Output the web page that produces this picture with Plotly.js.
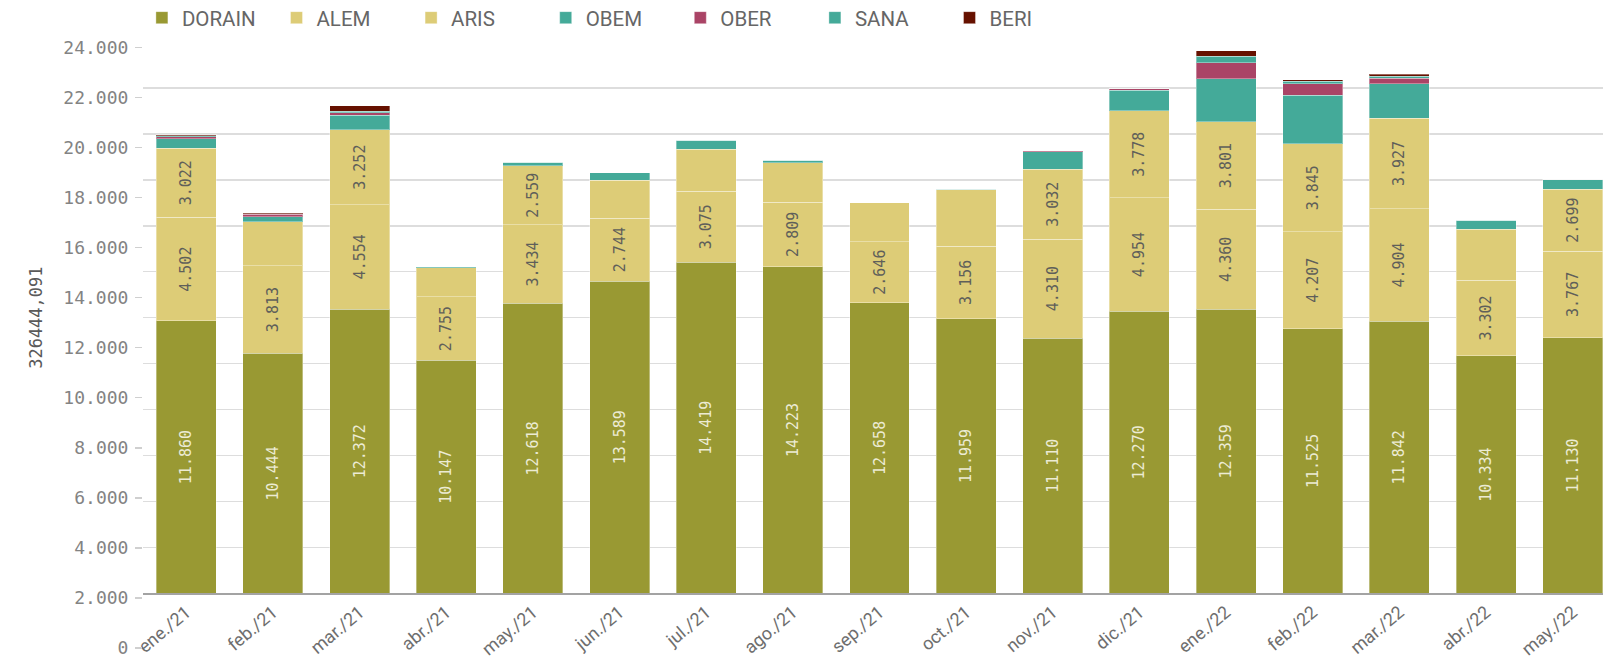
<!DOCTYPE html>
<html>
<head>
<meta charset="utf-8">
<script src="https://cdn.plot.ly/plotly-3.0.1.min.js"></script>
<style>
  html, body { margin: 0; padding: 0; background: #ffffff; }
  #chart { width: 1603px; height: 658px; }
</style>
</head>
<body>
<div id="chart"></div>
<script>
// ---- data ----
const categories = ['ene./21','feb./21','mar./21','abr./21','may./21','jun./21','jul./21','ago./21','sep./21','oct./21','nov./21','dic./21','ene./22','feb./22','mar./22','abr./22','may./22'];
const DORAIN = [11860,10444,12372,10147,12618,13589,14419,14223,12658,11959,11110,12270,12359,11525,11842,10334,11130];
const ALEM   = [4502,3813,4554,2755,3434,2744,3075,2809,2646,3156,4310,4954,4360,4207,4904,3302,3767];
const ARIS   = [3022,1914,3252,1275,2559,1650,1837,1701,1693,2445,3032,3778,3801,3845,3927,2215,2699];
const OBEM   = [409,218,638,40,145,334,392,116,15,40,766,896,1871,2100,1514,390,400];
const OBER   = [87,117,110,0,0,0,0,0,0,0,40,57,696,508,230,0,0];
const SANA   = [40,15,60,0,0,0,0,0,0,0,0,0,290,116,100,0,0];
const BERI   = [45,15,232,0,0,0,0,0,0,0,0,0,232,58,87,0,0];
const axisTickValues = [0,2000,4000,6000,8000,10000,12000,14000,16000,18000,20000,22000,24000];
const yTitle = '326444,091';

// ---- helpers ----
const LABEL_MIN = 2500; // segments smaller than this carry no label
function fmt(v) { return String(v).replace(/\B(?=(\d{3})+(?!\d))/g, '.'); }
function labels(arr) { return arr.map(v => v >= LABEL_MIN ? fmt(v) : ''); }

const series = [
  {name: 'DORAIN', data: DORAIN, color: '#999933', txt: '#ecebd3'},
  {name: 'ALEM',   data: ALEM,   color: '#ddcc77', txt: '#5f5f5a'},
  {name: 'ARIS',   data: ARIS,   color: '#ddcc77', txt: '#5f5f5a'},
  {name: 'OBEM',   data: OBEM,   color: '#44aa99', txt: '#ffffff'},
  {name: 'OBER',   data: OBER,   color: '#aa4466', txt: '#ffffff'},
  {name: 'SANA',   data: SANA,   color: '#44aa99', txt: '#ffffff'},
  {name: 'BERI',   data: BERI,   color: '#661100', txt: '#ffffff'}
];

const W = 1603, H = 658;
const LEGEND_START = 141.9, LEGEND_STEP = 134.6, LEGEND_MID = 17.8;
const traces = [];
const layout = {
  width: W, height: H,
  paper_bgcolor: '#ffffff',
  plot_bgcolor: 'rgba(0,0,0,0)',
  separators: ',.',
  barmode: 'stack',
  bargap: 0.3077,
  margin: {l: 143, r: 0, t: 42, b: 10, pad: 0},
  font: {family: 'Roboto, sans-serif', color: '#666666'},
  xaxis: {
    type: 'category',
    range: [-0.5, 16.35],
    showgrid: false,
    zeroline: false,
    showline: true,
    linecolor: '#a3a3a3',
    linewidth: 1.5,
    ticks: '',
    tickangle: -40,
    tickfont: {family: 'Roboto, sans-serif', size: 18, color: '#6e6e6e'},
    anchor: 'y',
    fixedrange: true
  },
  yaxis: {
    domain: [0.09026, 1],
    range: [0, 24000],
    dtick: 2000,
    tick0: 0,
    showgrid: true,
    gridcolor: '#dddddd',
    gridwidth: 1.5,
    zeroline: false,
    showticklabels: false,
    ticks: '',
    title: {text: yTitle, standoff: 95, font: {family: 'DejaVu Sans Mono, monospace', size: 17, color: '#5a5a5a'}},
    fixedrange: true
  },
  yaxis2: {
    domain: [0, 0.99125],
    range: [0, 24000],
    anchor: 'x',
    tickmode: 'array',
    tickvals: axisTickValues,
    tickformat: ',',
    showgrid: false,
    zeroline: false,
    showline: false,
    ticks: 'outside',
    ticklen: 7,
    tickwidth: 1.5,
    tickcolor: '#cfcfcf',
    ticklabelstandoff: 3,
    ticklabeloverflow: 'allow',
    tickfont: {family: 'DejaVu Sans Mono, monospace', size: 18, color: '#838383'},
    fixedrange: true
  },
  showlegend: true
};

series.forEach((s, i) => {
  const legendId = i === 0 ? 'legend' : 'legend' + (i + 1);
  traces.push({
    type: 'bar',
    name: s.name,
    x: categories,
    y: s.data,
    text: labels(s.data),
    textposition: 'inside',
    insidetextanchor: 'middle',
    textangle: -90,
    textfont: {family: 'DejaVu Sans Mono, monospace', size: 15, color: s.txt},
    marker: {color: s.color, line: {color: 'rgba(255,255,255,0.35)', width: 1}},
    legend: legendId,
    hoverinfo: 'x+y+name',
    xaxis: 'x', yaxis: 'y'
  });
  layout[legendId] = {
    orientation: 'h',
    xref: 'container', yref: 'container',
    x: (LEGEND_START + i * LEGEND_STEP) / W,
    y: 1 - LEGEND_MID / H,
    xanchor: 'left', yanchor: 'middle',
    bgcolor: 'rgba(0,0,0,0)',
    borderwidth: 0,
    font: {family: 'Roboto, sans-serif', size: 20.5, color: '#666666'}
  };
});

// empty trace that carries the visible value axis (yaxis2)
traces.push({type: 'scatter', x: [], y: [], xaxis: 'x', yaxis: 'y2', showlegend: false, hoverinfo: 'skip'});

Plotly.newPlot('chart', traces, layout, {displayModeBar: false, staticPlot: true});
</script>
</body>
</html>
